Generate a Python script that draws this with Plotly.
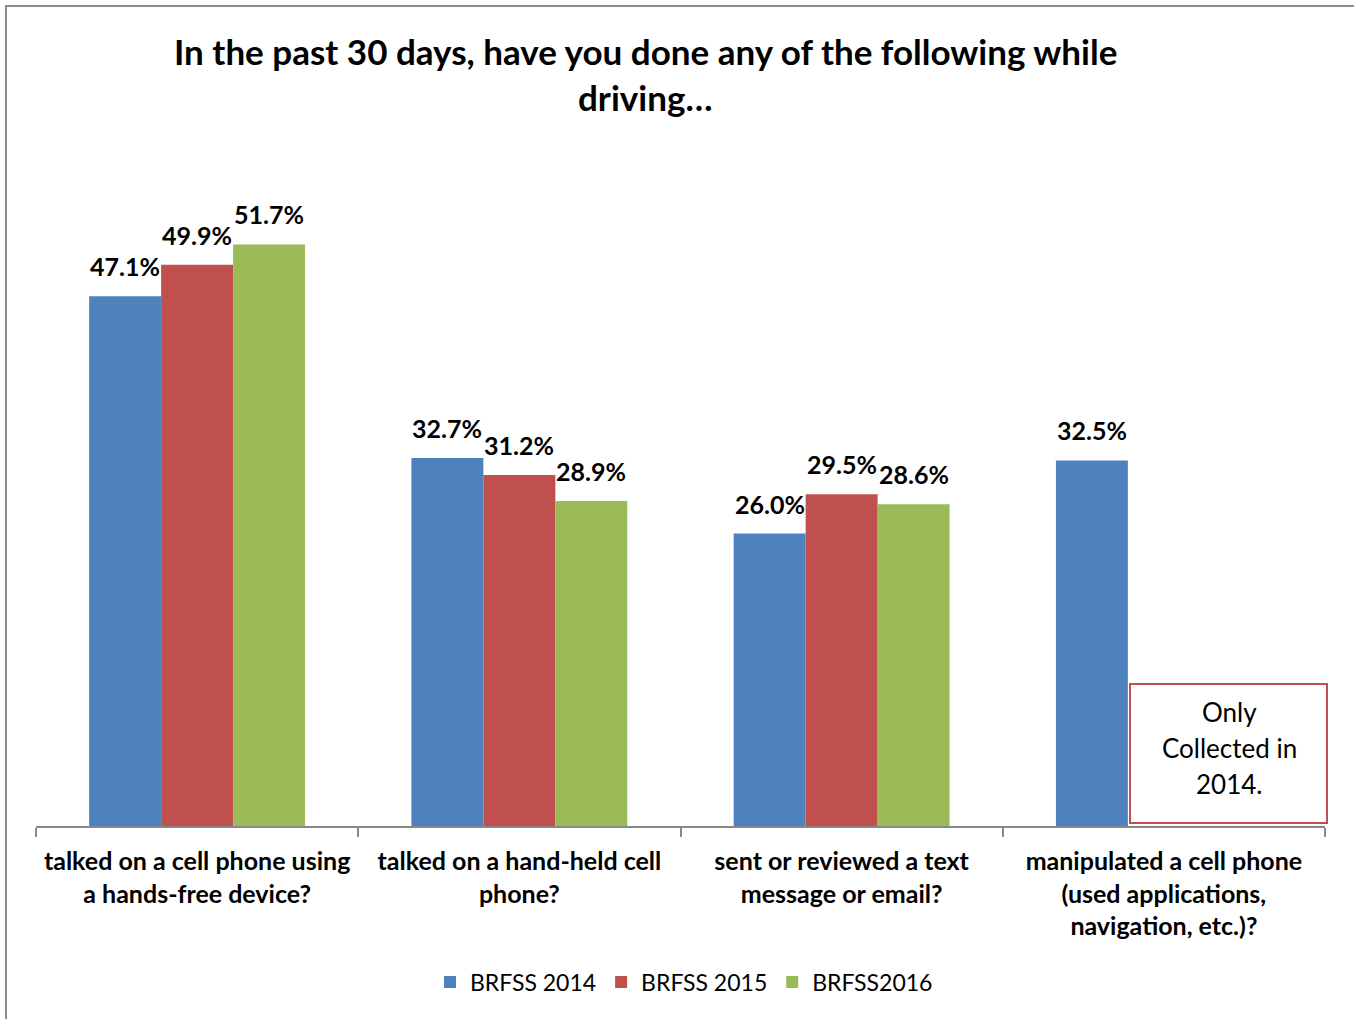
import plotly.graph_objects as go

categories = [
    "talked on a cell phone using<br>a hands-free device?",
    "talked on a hand-held cell<br>phone?",
    "sent or reviewed a text<br>message or email?",
    "manipulated a cell phone<br>(used applications,<br>navigation, etc.)?",
]
series_names = ["BRFSS 2014", "BRFSS 2015", "BRFSS2016"]
brfss_2014 = [47.1, 32.7, 26.0, 32.5]
brfss_2015 = [49.9, 31.2, 29.5, None]
brfss_2016 = [51.7, 28.9, 28.6, None]
colors = ["#4F81BD", "#C0504D", "#9BBB59"]

FONT = "Lato"

W, H = 1354, 1019
L, R, T, B = 36, 29, 151, 193
pw, ph = W - L - R, H - T - B
BARGAP = 0.33
bar_px = pw / len(categories) * (1 - BARGAP) / len(series_names)

def px(xp):
    return (xp - L) / pw

def py(yp):
    return (H - B - yp) / ph

fig = go.Figure()
all_series = [brfss_2014, brfss_2015, brfss_2016]
for name, vals, col in zip(series_names, all_series, colors):
    fig.add_trace(go.Bar(
        x=categories, y=vals, name=name, marker_color=col,
        marker_line_width=0,
    ))

# data labels
for i, vals in enumerate(all_series):
    for cat, v in zip(categories, vals):
        if v is None:
            continue
        fig.add_annotation(x=cat, y=v, xref="x", yref="y", text=f"<b>{v:.1f}%</b>",
                           showarrow=False, xshift=(i - 1) * bar_px, yshift=13,
                           yanchor="bottom", xanchor="center",
                           font=dict(family=FONT, size=25, color="#000000"))

fig.update_layout(
    width=W, height=H,
    margin=dict(l=L, r=R, t=T, b=B),
    paper_bgcolor="white", plot_bgcolor="white",
    barmode="group", bargap=BARGAP, bargroupgap=0,
    font=dict(family=FONT, color="#000000"),
    showlegend=True,
    legend=dict(orientation="h", x=px(684), xanchor="center", y=py(982), yanchor="middle",
                font=dict(family=FONT, size=23), traceorder="normal"),
)
fig.update_xaxes(
    showline=True, linecolor="#888888", linewidth=2,
    ticks="outside", tickson="boundaries", ticklen=9, tickcolor="#888888", tickwidth=2,
    tickfont=dict(family=FONT, size=25, color="#000000", weight="bold"),
    ticklabelstandoff=12,
    showgrid=False,
)
fig.update_yaxes(range=[0, 60], visible=False, showgrid=False)

# title (two lines)
fig.add_annotation(text="<b>In the past 30 days, have you done any of the following while</b>",
                   xref="paper", yref="paper", x=px(645), y=py(51), showarrow=False,
                   font=dict(family=FONT, size=35), xanchor="center", yanchor="middle")
fig.add_annotation(text="<b>driving…</b>",
                   xref="paper", yref="paper", x=px(645), y=py(97), showarrow=False,
                   font=dict(family=FONT, size=35), xanchor="center", yanchor="middle")

# text box
fig.add_shape(type="rect", xref="paper", yref="paper",
              x0=px(1130), x1=px(1327), y0=py(823), y1=py(684),
              line=dict(color="#C0504D", width=2), fillcolor="white")
for t, yy in zip(["Only", "Collected in", "2014."], [712, 748, 784]):
    fig.add_annotation(text=t, xref="paper", yref="paper", x=px(1229), y=py(yy),
                       showarrow=False, font=dict(family=FONT, size=26),
                       xanchor="center", yanchor="middle")

# outer frame
fig.add_shape(type="rect", xref="paper", yref="paper",
              x0=px(6), x1=px(1360), y0=py(1030), y1=py(6),
              line=dict(color="#8C8C8C", width=2), fillcolor="rgba(0,0,0,0)", layer="below")

fig.write_html("out.html", config={"displayModeBar": False},
               post_script="document.body.style.margin='0';")
